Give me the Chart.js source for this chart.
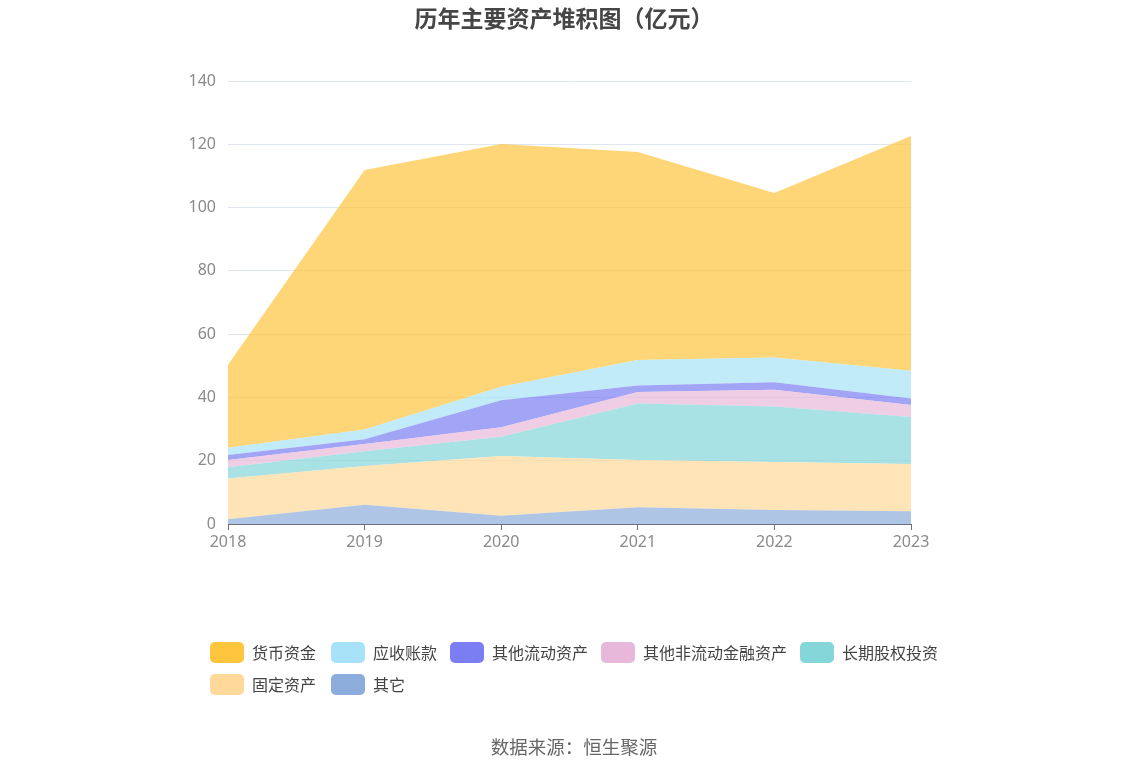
<!DOCTYPE html>
<html><head><meta charset="utf-8">
<script src="https://cdn.jsdelivr.net/npm/chart.js@4/dist/chart.umd.min.js"></script>
<style>
html,body{margin:0;padding:0;background:#fff;width:1148px;height:776px;overflow:hidden;font-family:"Noto Sans CJK SC","Noto Sans",sans-serif;}
#wrap{position:absolute;left:0;top:0;width:1148px;height:776px;}
#title{position:absolute;top:0px;left:0;width:1128px;text-align:center;font-size:23px;font-weight:bold;color:#464646;}
#src{position:absolute;top:733px;left:0;width:1148px;text-align:center;font-size:18.5px;color:#666;}
#legend{position:absolute;left:210px;top:640px;width:760px;}
.item{position:absolute;display:flex;align-items:center;font-size:16px;color:#444;white-space:nowrap;}
.sw{width:34px;height:21px;border-radius:5px;margin-right:8px;}
</style></head>
<body>
<div id="wrap"><canvas id="c" width="1148" height="776"></canvas></div>
<div id="title">历年主要资产堆积图（亿元）</div>
<div id="legend"></div>
<div id="src">数据来源：恒生聚源</div>
<script>
const years = ['2018','2019','2020','2021','2022','2023'];
const seriesNames = ['其它','固定资产','长期股权投资','其他非流动金融资产','其他流动资产','应收账款','货币资金'];
const other        = [1.5, 6.1, 2.6, 5.3, 4.4, 4.0];
const fixedAssets  = [12.9, 12.2, 18.9, 14.9, 15.2, 15.0];
const ltEquity     = [3.5, 4.7, 6.1, 17.9, 17.5, 14.8];
const otherNcFin   = [2.3, 2.3, 3.0, 3.6, 5.3, 3.8];
const otherCurrent = [1.6, 1.5, 8.5, 2.1, 2.4, 2.1];
const receivables  = [2.3, 3.1, 4.3, 8.0, 7.8, 8.7];
const cash         = [26.2, 82.0, 76.7, 65.8, 52.0, 74.2];
const yTicks = [0,20,40,60,80,100,120,140];

const seriesData = [other, fixedAssets, ltEquity, otherNcFin, otherCurrent, receivables, cash];
const colors = ['#8CACDC','#FFD89A','#84D6D8','#E8B8DA','#7A7EF2','#A8E2F8','#FFC53D'];
function rgba(hex,a){const n=parseInt(hex.slice(1),16);return `rgba(${n>>16},${(n>>8)&255},${n&255},${a})`;}

const datasets = seriesData.map((d,i)=>({
  label: seriesNames[i], data: d,
  backgroundColor: rgba(colors[i],0.7), borderWidth:0, pointRadius:0, pointHoverRadius:0,
  fill: i===0 ? 'origin' : '-1', tension:0
}));

new Chart(document.getElementById('c'),{
  type:'line',
  data:{labels:years,datasets},
  options:{
    responsive:false, animation:false,
    layout:{padding:{left:0,right:237,top:81,bottom:212}},
    plugins:{legend:{display:false},tooltip:{enabled:false},title:{display:false}},
    scales:{
      x:{offset:false,
        grid:{display:true,drawOnChartArea:false,drawTicks:true,tickLength:6,color:'#6E7079'},
        border:{display:true,color:'#6E7079',width:1},
        ticks:{color:'#8a8a8a',font:{size:16,family:'"Noto Sans","Noto Sans CJK SC",sans-serif'},padding:3,maxRotation:0},
        afterFit:s=>{s.height=40;}
      },
      y:{stacked:true,min:0,max:140,
        afterBuildTicks:s=>{s.ticks=yTicks.map(v=>({value:v}));},
        grid:{color:'#E0E6F1',drawTicks:false},
        border:{display:false},
        ticks:{color:'#8a8a8a',font:{size:16,family:'"Noto Sans","Noto Sans CJK SC",sans-serif'},padding:12},
        afterFit:s=>{s.width=228;}
      }
    }
  }
});

const legendOrder = [6,5,4,3,2,1,0];
const pos = [[0,0],[121,0],[240,0],[391,0],[590,0],[0,32],[121,32]];
const lg = document.getElementById('legend');
legendOrder.forEach((si,k)=>{
  const d=document.createElement('div');d.className='item';
  d.style.left=pos[k][0]+'px';d.style.top=pos[k][1]+'px';
  d.innerHTML=`<span class="sw" style="background:${colors[si]}"></span>${seriesNames[si]}`;
  lg.appendChild(d);
});
</script>
</body></html>
